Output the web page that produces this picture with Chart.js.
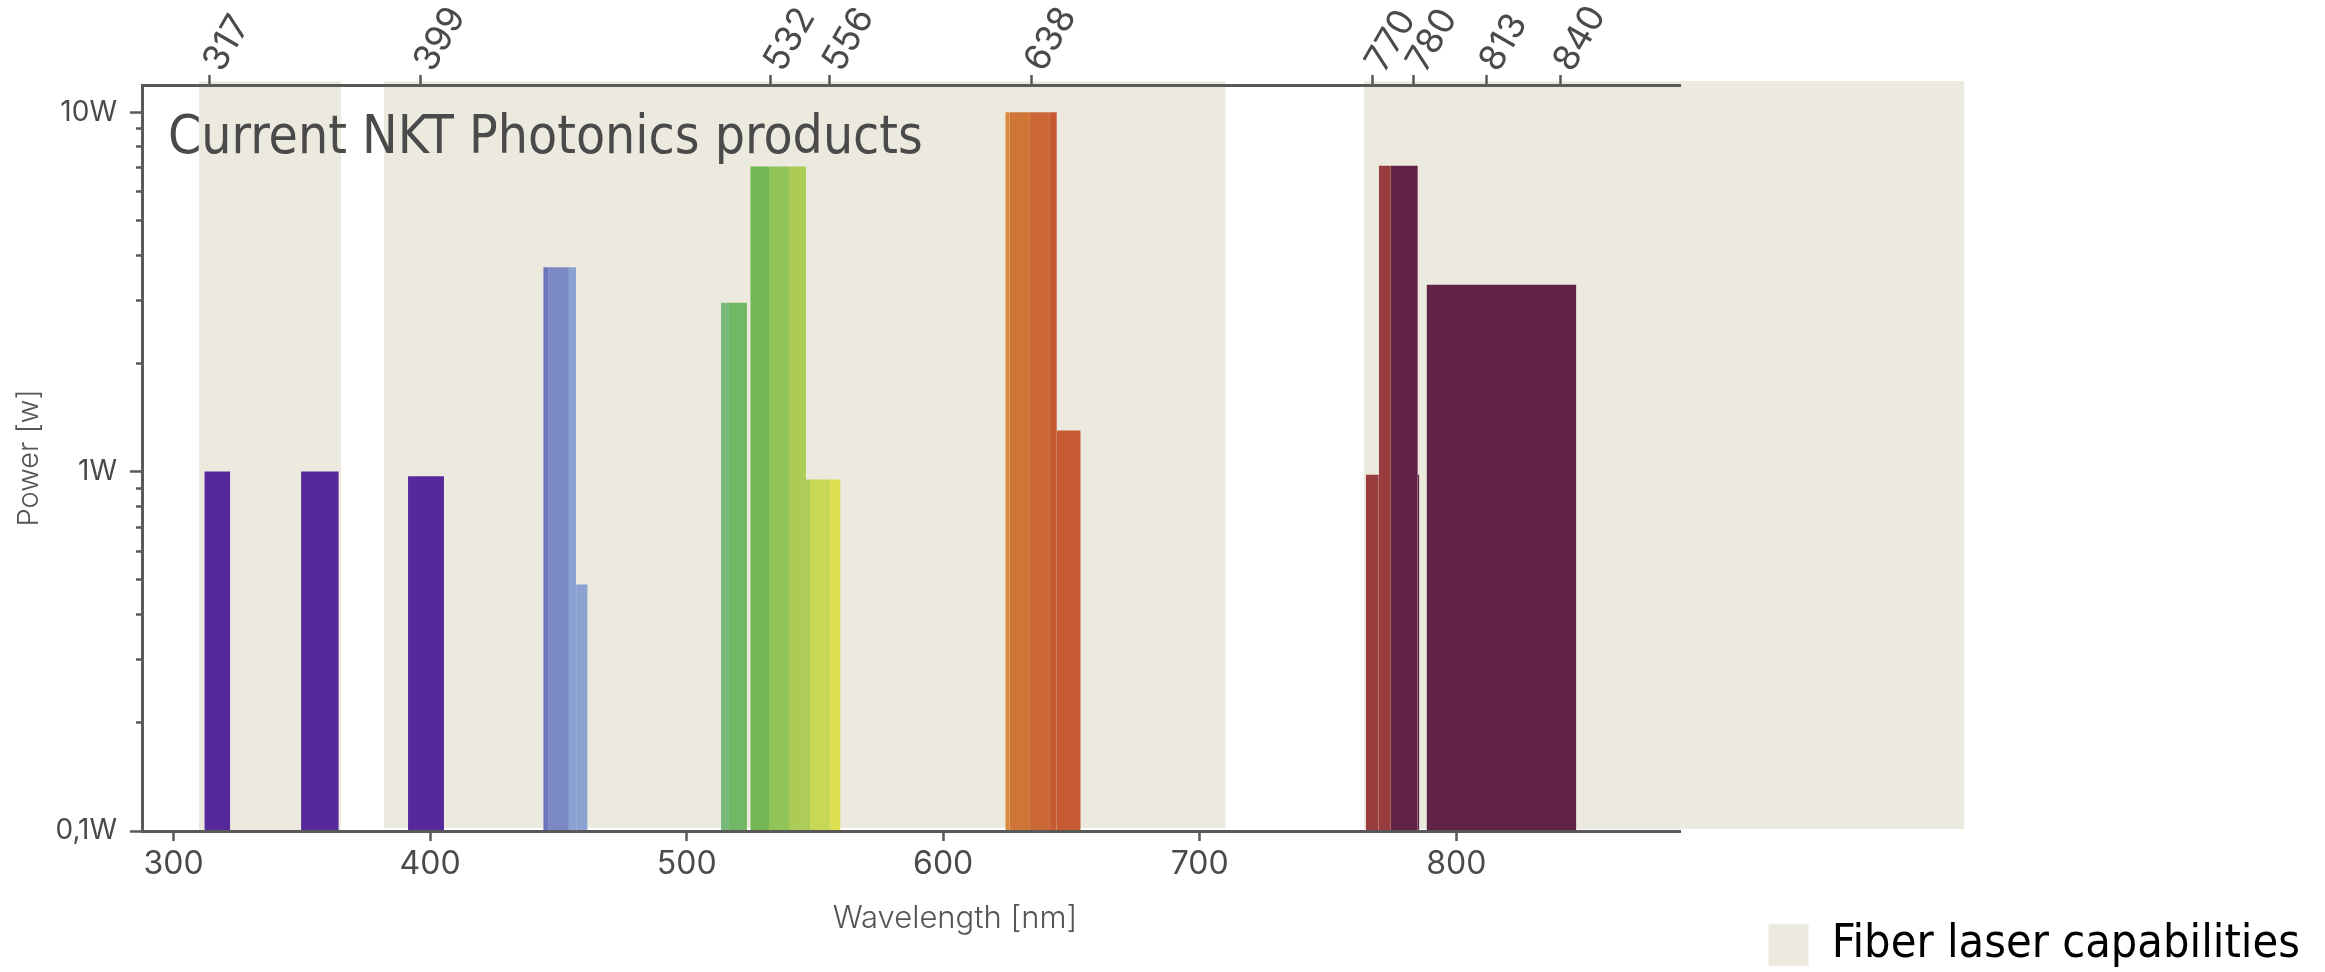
<!DOCTYPE html>
<html>
<head>
<meta charset="utf-8">
<script src="https://cdn.jsdelivr.net/npm/chart.js@4.4.1/dist/chart.umd.min.js"></script>
<style>
html,body{margin:0;padding:0;background:#ffffff;}
canvas{display:block;}
</style>
</head>
<body>
<canvas id="chart" width="2325" height="972"></canvas>
<script>
// ---------------- data ----------------
const chartTitle = 'Current NKT Photonics products';
const xTitle = 'Wavelength [nm]';
const yTitle = 'Power [w]';
const legendLabel = 'Fiber laser capabilities';

// product bars: wavelength span [nm] and output power [W]
const barStart = [312.0, 349.7, 391.4, 444.1, 446.3, 454.1, 456.9, 513.4, 516.5, 524.8, 532.1, 539.9, 546.5, 548.1, 555.9, 624.2, 626.0, 633.8, 641.6, 644.3, 764.7, 769.8, 774.5, 785.0, 788.4];
const barEnd   = [322.1, 364.4, 405.4, 446.3, 454.1, 456.9, 461.4, 516.5, 523.5, 532.1, 539.9, 546.5, 548.1, 555.9, 560.0, 626.0, 633.8, 641.6, 644.3, 653.6, 769.8, 774.5, 785.0, 785.6, 846.8];
const barPower = [1.0,   1.0,   0.97,  3.7,   3.7,   3.7,   0.485, 2.95,  2.95,  7.06,  7.06,  7.06,  0.95,  0.95,  0.95,  10,    10,    10,    10,    1.30,  0.98,  7.09,  7.09,  0.98,  3.31];

// fiber laser capability bands [nm]
const fiberStart  = [309.9, 382.0, 764.0];
const fiberEnd    = [365.3, 710.0, 998.0];
const fiberTop    = [12.2, 12.2, 12.2];
const fiberBottom = [0.1, 0.102, 0.1013];

// axes
const xMin = 287.7, xMax = 887.2;
const yMin = 0.1, yMax = 11.9;
const xTickValues = [300, 400, 500, 600, 700, 800];
// top axis: tick marks as placed in the picture, with their wavelength labels
const topTickPos = [314.2, 396.4, 532.8, 555.7, 634.4, 767.4, 783.3, 811.7, 840.5];
const topTickLabels = ['317', '399', '532', '556', '638', '770', '780', '813', '840'];
const yTickValues = [0.1, 0.2, 0.3, 0.4, 0.5, 0.6, 0.7, 0.8, 0.9, 1, 2, 3, 4, 5, 6, 7, 8, 9, 10];
const yMajorValues = [0.1, 1, 10];
const yMajorLabels = ['0,1W', '1W', '10W'];

// ---------------- styles ----------------
const barColor = ['#55289c', '#55289c', '#55289c', '#6d76bb', '#7a89c4', '#8ba2d3', '#8ba2d3', '#79b97d', '#72b766', '#73b655', '#92c45a', '#accc55', '#accc55', '#c6d854', '#dfe04f', '#d98b3d', '#cf7637', '#cb6737', '#c65a33', '#c65a33', '#983c3d', '#983c3d', '#612345', '#612345', '#612345'];
const fiberColor = '#eceade';
const axisColor = '#595959';
const textColor = '#4a4a4a';
const condensed = 'DejaVu Sans Condensed';

const datasets = barStart.map((s, i) => ({
  label: 'bar' + i,
  data: [{x: s, y: barPower[i]}, {x: barEnd[i], y: barPower[i]}],
  xAxisID: 'x',
  yAxisID: 'y',
  fill: 'start',
  backgroundColor: barColor[i],
  borderColor: 'rgba(0,0,0,0)',
  borderWidth: 0,
  pointRadius: 0,
  pointHoverRadius: 0,
  tension: 0
}));

const backdropPlugin = {
  id: 'fiberBands',
  beforeDatasetsDraw(chart) {
    const {ctx, scales: {x, y}, chartArea} = chart;
    ctx.save();
    ctx.fillStyle = fiberColor;
    for (let i = 0; i < fiberStart.length; i++) {
      const x0 = x.getPixelForValue(fiberStart[i]);
      const x1 = x.getPixelForValue(fiberEnd[i]);
      const y0 = y.getPixelForValue(fiberTop[i]);
      const y1 = y.getPixelForValue(fiberBottom[i]);
      ctx.fillRect(x0, y0, x1 - x0, y1 - y0);
    }
    ctx.fillStyle = textColor;
    ctx.font = '53px "' + condensed + '"';
    ctx.textAlign = 'left';
    ctx.textBaseline = 'alphabetic';
    ctx.fillText(chartTitle, chartArea.left + 26, chartArea.top + 68);
    ctx.restore();
  },
  afterDraw(chart) {
    const {ctx, chartArea} = chart;
    ctx.save();
    ctx.fillStyle = '#555555';
    ctx.font = '300 31px Inter';
    ctx.textAlign = 'center';
    ctx.textBaseline = 'middle';
    ctx.fillText(xTitle, (chartArea.left + chartArea.right) / 2 + 44, chartArea.bottom + 88);
    ctx.restore();
  }
};

new Chart(document.getElementById('chart'), {
  type: 'line',
  data: {datasets},
  plugins: [backdropPlugin],
  options: {
    responsive: false,
    devicePixelRatio: 1,
    animation: false,
    events: [],
    layout: {padding: {left: 0, right: 15, top: 0, bottom: 0}},
    plugins: {
      tooltip: {enabled: false},
      legend: {
        position: 'right',
        align: 'end',
        maxWidth: 800,
        labels: {
          boxWidth: 40,
          boxHeight: 42,
          padding: 4,
          color: textColor,
          font: {family: condensed, size: 46.5},
          generateLabels: () => [{
            text: legendLabel,
            fillStyle: fiberColor,
            strokeStyle: fiberColor,
            lineWidth: 0,
            hidden: false,
            datasetIndex: 0
          }]
        }
      }
    },
    scales: {
      x: {
        type: 'linear', position: 'bottom', min: xMin, max: xMax, bounds: 'data',
        afterBuildTicks: s => { s.ticks = xTickValues.map(v => ({value: v})); },
        afterFit: s => { s.height = 141; },
        ticks: {autoSkip: false, minRotation: 0, maxRotation: 0, padding: 4, color: textColor,
                font: {family: 'Inter', size: 32}, callback: v => String(v)},
        grid: {drawOnChartArea: false, drawTicks: true, tickLength: 10, tickWidth: 2.5, tickColor: axisColor, z: 1},
        border: {display: true, color: axisColor, width: 3, z: 1},
        title: {display: false}
      },
      x2: {
        type: 'linear', position: 'top', min: xMin, max: xMax, bounds: 'data',
        afterBuildTicks: s => { s.ticks = topTickPos.map(v => ({value: v})); },
        afterFit: s => { s.height = 85; },
        ticks: {autoSkip: false, minRotation: 60, maxRotation: 60, padding: -4, labelOffset: 40, color: textColor,
                font: {family: 'Inter', size: 36}, callback: (v, i) => topTickLabels[i]},
        grid: {drawOnChartArea: false, drawTicks: true, tickLength: 10, tickWidth: 2.5, tickColor: axisColor, z: 1},
        border: {display: true, color: axisColor, width: 3, z: 1}
      },
      y: {
        type: 'logarithmic', position: 'left', min: yMin, max: yMax, bounds: 'data',
        afterBuildTicks: s => { s.ticks = yTickValues.map(v => ({value: v})); },
        afterFit: s => { s.width = 142; },
        ticks: {autoSkip: false, padding: 13, color: textColor, font: {family: 'Inter', size: 28},
                callback: v => { const k = yMajorValues.indexOf(v); return k >= 0 ? yMajorLabels[k] : ''; }},
        grid: {drawOnChartArea: false, drawTicks: true, tickLength: 12, tickWidth: 2.5, tickColor: axisColor, z: 1,
               tickBorderDash: c => (c.tick && yMajorValues.indexOf(c.tick.value) >= 0) ? [] : [0, 6, 6, 0]},
        border: {display: true, color: axisColor, width: 3, z: 1},
        title: {display: true, text: yTitle, color: '#555555',
                font: {family: 'Inter', size: 29, weight: '300'}, padding: {top: 12, bottom: 0}}
      },
      yr: {
        type: 'linear', position: 'right', display: true,
        grid: {display: false}, ticks: {display: false}, border: {display: false},
        afterFit: s => {
          const lw = s.chart.legend ? s.chart.legend.width : 0;
          s.width = Math.max(0, s.chart.width - 15 - lw - 1680);
        }
      }
    }
  }
});
</script>
</body>
</html>
